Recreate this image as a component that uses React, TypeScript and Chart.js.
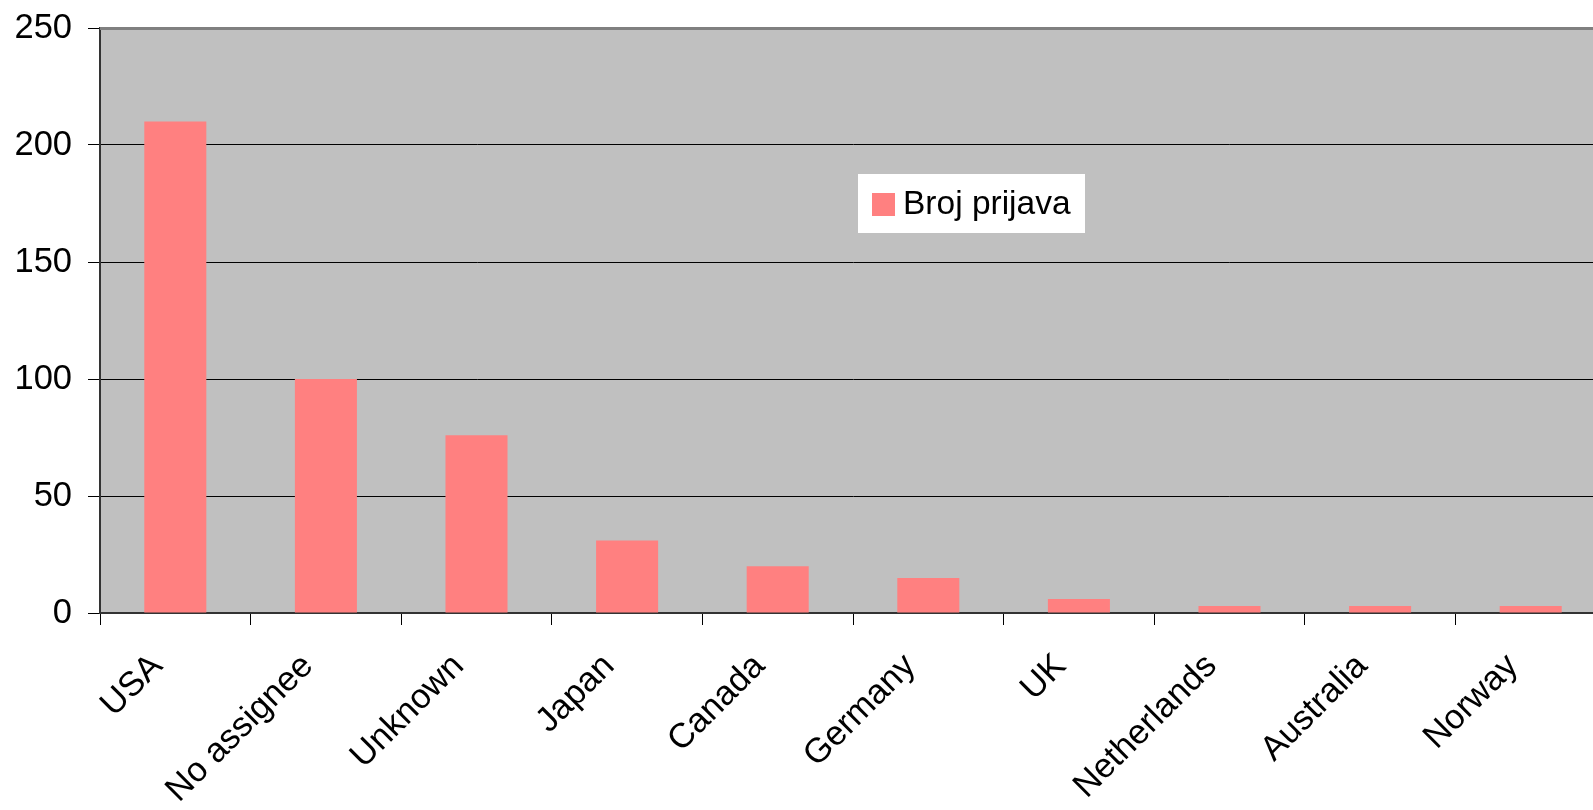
import React, { useEffect, useRef } from "react";
import { Chart, registerables } from "chart.js";

Chart.register(...registerables);

const categories = ["USA", "No assignee", "Unknown", "Japan", "Canada", "Germany", "UK", "Netherlands", "Australia", "Norway"];
const seriesLabel = "Broj prijava";
const seriesValues = [210, 100, 76, 31, 20, 15, 6, 3, 3, 3];
const yTicks = [0, 50, 100, 150, 200, 250];

const FONT = "'Liberation Sans', Arial, sans-serif";
const BAR_COLOR = "#ff8080";

const plotBg = {
  id: "plotBg",
  beforeDraw(chart: any) {
    const { ctx, chartArea } = chart;
    ctx.save();
    ctx.fillStyle = "#c0c0c0";
    ctx.fillRect(chartArea.left, chartArea.top, chartArea.right - chartArea.left, chartArea.bottom - chartArea.top);
    ctx.restore();
  },
  afterDraw(chart: any) {
    const { ctx, chartArea } = chart;
    ctx.save();
    ctx.strokeStyle = "#808080";
    ctx.lineWidth = 3;
    ctx.beginPath();
    ctx.moveTo(chartArea.left, chartArea.top + 0.5);
    ctx.lineTo(chartArea.right, chartArea.top + 0.5);
    ctx.stroke();
    const bx = 858, by = 174, bw = 227, bh = 59;
    ctx.fillStyle = "#ffffff";
    ctx.fillRect(bx, by, bw, bh);
    ctx.fillStyle = BAR_COLOR;
    ctx.fillRect(bx + 14, by + 19, 23, 23);
    ctx.fillStyle = "#000";
    ctx.font = `33.5px ${FONT}`;
    ctx.textBaseline = "alphabetic";
    ctx.textAlign = "left";
    ctx.fillText(seriesLabel, bx + 45, by + 40);
    ctx.restore();
  },
};

export default function App() {
  const ref = useRef<HTMLCanvasElement | null>(null);
  useEffect(() => {
    document.body.style.margin = "0";
    const chart = new Chart(ref.current as HTMLCanvasElement, {
      type: "bar",
      data: {
        labels: categories,
        datasets: [
          {
            label: seriesLabel,
            data: seriesValues,
            backgroundColor: BAR_COLOR,
            borderWidth: 0,
            categoryPercentage: 1,
            barPercentage: 0.412,
          },
        ],
      },
      options: {
        animation: false,
        responsive: true,
        maintainAspectRatio: false,
        layout: { padding: { top: 28, right: 0, left: 0, bottom: 0 } },
        plugins: { legend: { display: false }, tooltip: { enabled: false } },
        scales: {
          x: {
            grid: { offset: true, drawOnChartArea: false, color: "#000", lineWidth: 1, tickLength: 12 },
            border: { display: true, color: "#333", width: 2 },
            ticks: {
              color: "#000",
              font: { family: FONT, size: 34.5 },
              maxRotation: 45,
              minRotation: 45,
              padding: 21,
              labelOffset: -18,
              autoSkip: false,
            },
            afterFit(scale: any) {
              scale.height = 197;
              scale.paddingLeft = 0;
              scale.paddingRight = 0;
            },
          },
          y: {
            min: 0,
            max: 250,
            afterBuildTicks(scale: any) {
              scale.ticks = yTicks.map((v) => ({ value: v }));
            },
            grid: { color: "#000", lineWidth: 1, tickLength: 12 },
            border: { display: true, color: "#333", width: 2 },
            ticks: {
              color: "#000",
              font: { family: FONT, size: 34.5 },
              padding: 16,
            },
            afterFit(scale: any) {
              scale.width = 100;
              scale.paddingTop = 0;
              scale.paddingBottom = 0;
            },
          },
        },
      },
      plugins: [plotBg],
    });
    return () => chart.destroy();
  }, []);
  return (
    <div style={{ position: "fixed", left: 0, top: 0, width: 1593, height: 810, overflow: "hidden", background: "#fff" }}>
      <div style={{ position: "relative", width: 1606, height: 810 }}>
        <canvas ref={ref} />
      </div>
    </div>
  );
}
